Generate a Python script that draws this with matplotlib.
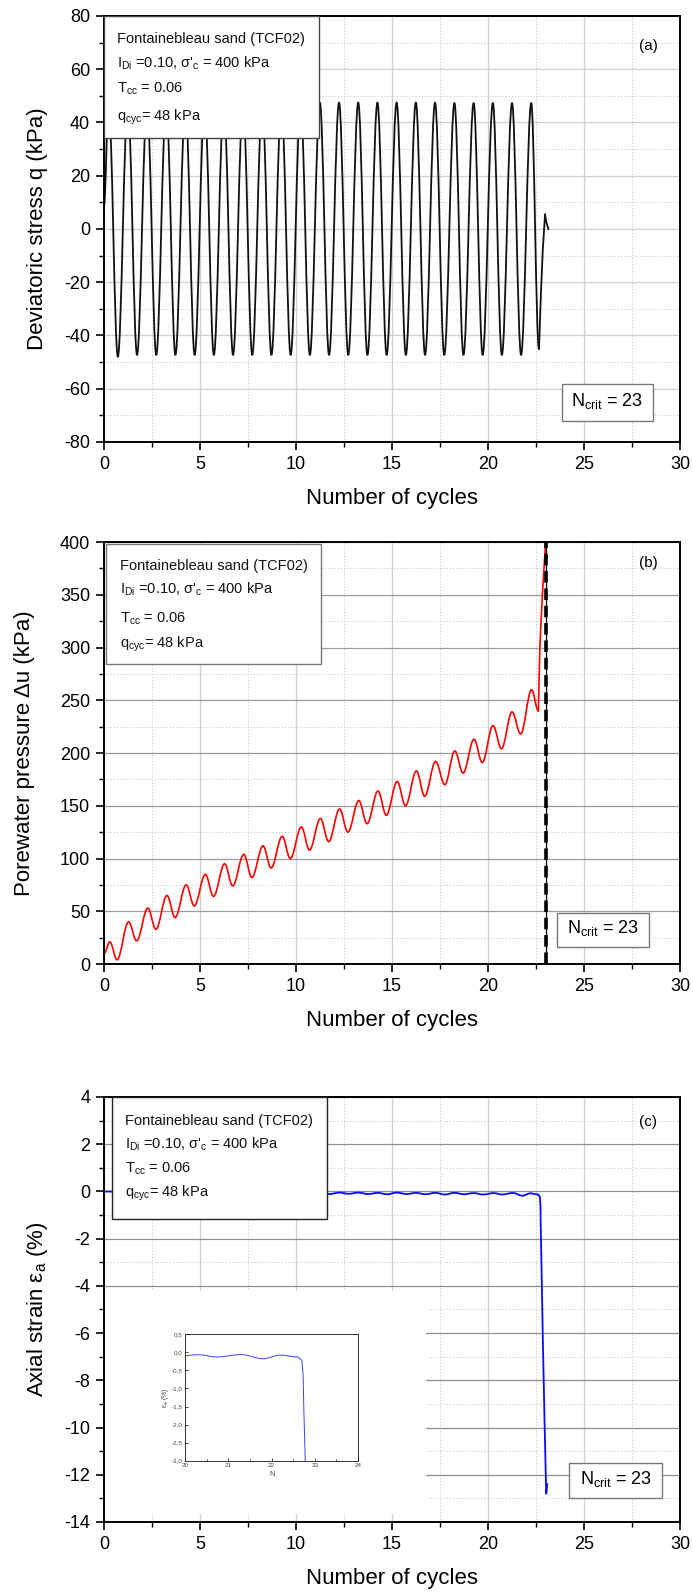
import matplotlib
matplotlib.use('Agg')
import matplotlib.pyplot as plt
from matplotlib.path import Path
from matplotlib.patches import PathPatch, Rectangle
from matplotlib.ticker import MultipleLocator, FixedLocator, FixedFormatter

plt.rcParams.update({
    'font.family': ['Liberation Sans', 'DejaVu Sans'],
    'mathtext.fontset': 'custom',
    'mathtext.rm': 'Liberation Sans',
    'mathtext.it': 'Liberation Sans:italic',
    'mathtext.bf': 'Liberation Sans:bold',
    'axes.unicode_minus': False,
})

# ---------------- data ----------------
# (a) deviatoric stress: extrema of the cyclic signal
q_ext_N = [0.00, 0.24, 0.72, 1.24, 1.72, 2.24, 2.72, 3.24, 3.72, 4.24, 4.72, 5.24, 5.72,
           6.24, 6.72, 7.24, 7.72, 8.24, 8.72, 9.24, 9.72, 10.24, 10.72, 11.24, 11.72,
           12.24, 12.72, 13.24, 13.72, 14.24, 14.72, 15.24, 15.72, 16.24, 16.72, 17.24,
           17.72, 18.25, 18.72, 19.25, 19.72, 20.25, 20.72, 21.25, 21.72, 22.25, 22.65]
q_ext = [9.0, 47.5, -48.0, 47.5, -47.3, 47.5, -47.3, 47.5, -47.3, 47.5, -47.3, 47.5, -47.3,
         47.5, -47.3, 47.5, -47.3, 47.5, -47.3, 47.5, -47.3, 47.5, -47.3, 47.5, -47.3,
         47.5, -47.3, 47.5, -47.3, 47.5, -47.3, 47.5, -47.3, 47.5, -47.3, 47.5,
         -47.3, 47.3, -47.3, 47.3, -47.3, 47.3, -47.3, 47.3, -47.3, 47.3, -45.0]
q_tail_N = [22.65, 22.68, 22.75, 22.85, 22.97, 23.02, 23.08, 23.14]
q_tail = [-45.0, -40.0, -25.0, -8.0, 5.6, 3.0, 1.5, 0.0]

# (b) pore water pressure: extrema
u_ext_N = [0.00, 0.30, 0.68, 1.28, 1.70, 2.28, 2.70, 3.28, 3.70, 4.28, 4.70, 5.28, 5.70,
           6.28, 6.70, 7.28, 7.70, 8.28, 8.70, 9.28, 9.70, 10.28, 10.70, 11.27, 11.70,
           12.27, 12.70, 13.27, 13.70, 14.27, 14.70, 15.27, 15.70, 16.27, 16.70, 17.27,
           17.75, 18.27, 18.70, 19.27, 19.70, 20.26, 20.70, 21.25, 21.70, 22.27, 22.62]
u_ext = [10, 21, 4, 40, 22, 53, 33, 65, 44, 75, 55, 85, 64,
         95, 74, 104, 82, 112, 91, 121, 100, 130, 108, 138, 116,
         147, 125, 155, 133, 164, 141, 173, 150, 183, 159, 192,
         170, 202, 181, 213, 191, 226, 204, 239, 218, 260, 240]
u_tail_N = [22.62, 22.66, 22.70, 22.83, 23.00, 23.04]
u_tail = [240, 270, 301, 350, 400, 415]
N_crit = 23

# (c) axial strain: extrema of the small oscillations, then failure
e_ext_N = [0.0, 2.0, 4.0, 6.0, 8.0, 10.0, 11.25, 11.75, 12.25, 12.75, 13.25, 13.75,
           14.25, 14.75, 15.25, 15.75, 16.25, 16.75, 17.25, 17.75, 18.25, 18.75,
           19.25, 19.75, 20.30, 20.73, 21.30, 21.80, 22.20, 22.60]
e_ext = [0.0, -0.02, -0.03, -0.04, -0.05, -0.05, -0.05, -0.11, -0.05, -0.10, -0.05, -0.11,
         -0.06, -0.12, -0.05, -0.11, -0.06, -0.12, -0.06, -0.13, -0.06, -0.12,
         -0.07, -0.13, -0.07, -0.13, -0.065, -0.18, -0.08, -0.13]
e_tail_N = [22.60, 22.70, 22.73, 22.75, 22.78, 22.86, 22.95, 23.03, 23.06, 23.08]
e_tail = [-0.13, -0.22, -0.60, -1.70, -3.00, -6.50, -10.0, -12.8, -12.6, -12.4]

inset_yticks = [-3.0, -2.5, -2.0, -1.5, -1.0, -0.5, 0.0, 0.5]
inset_yticklabels = ['-3,0', '-2,5', '-2,0', '-1,5', '-1,0', '-0,5', '0,0', '0,5']
inset_xticks = [20, 21, 22, 23, 24]

info_lines = ['Fontainebleau sand (TCF02)',
              r"I$_{\mathrm{Di}}$ =0.10, σ'$_{\mathrm{c}}$ = 400 kPa",
              r'T$_{\mathrm{cc}}$ = 0.06',
              r'q$_{\mathrm{cyc}}$= 48 kPa']
ncrit_text = r'N$_{\mathrm{crit}}$ = 23'


# ---------------- helpers ----------------
def smooth_path(xs, ys, k=0.3634):
    verts = [(xs[0], ys[0])]
    codes = [Path.MOVETO]
    for i in range(len(xs) - 1):
        dx = xs[i + 1] - xs[i]
        verts += [(xs[i] + k * dx, ys[i]), (xs[i + 1] - k * dx, ys[i + 1]), (xs[i + 1], ys[i + 1])]
        codes += [Path.CURVE4] * 3
    return Path(verts, codes)


def draw_curve(ax, xs, ys, tx, ty, color, lw):
    ax.add_patch(PathPatch(smooth_path(xs, ys), fill=False, edgecolor=color, lw=lw,
                           zorder=2, capstyle='round', joinstyle='round'))
    ax.plot(tx, ty, color=color, lw=lw, zorder=2, solid_joinstyle='round')


def style(ax, ymin, ymax, ymaj, ymnr, hcol):
    ax.set_xlim(0, 30)
    ax.set_ylim(ymin, ymax)
    ax.xaxis.set_major_locator(MultipleLocator(5))
    ax.xaxis.set_minor_locator(MultipleLocator(2.5))
    ax.yaxis.set_major_locator(MultipleLocator(ymaj))
    ax.yaxis.set_minor_locator(MultipleLocator(ymnr))
    ax.set_axisbelow(True)
    ax.grid(which='major', axis='x', color='#cfcfcf', lw=0.9, ls='-')
    ax.grid(which='major', axis='y', color=hcol, lw=0.9, ls='-')
    ax.grid(which='minor', color='#c8c8c8', lw=0.7, ls=(0, (1.2, 2)))
    ax.tick_params(which='major', direction='out', length=6, width=1.2, labelsize=13,
                   pad=4, top=False, right=False)
    ax.tick_params(which='minor', direction='out', length=3.5, width=1.0, top=False, right=False)
    for s in ax.spines.values():
        s.set_linewidth(1.4)
    ax.set_xlabel('Number of cycles', fontsize=16)
    ax.xaxis.set_label_coords(0.5, -0.108)


def info_box(ax, x0, x1, y0, y1, ecol, tx, ys):
    ax.add_patch(Rectangle((x0, y1), x1 - x0, y0 - y1, transform=ax.transAxes,
                           facecolor='white', edgecolor=ecol, lw=1.0, zorder=3))
    for line, y in zip(info_lines, ys):
        ax.text(tx, y, line, transform=ax.transAxes, fontsize=10.5, va='baseline',
                ha='left', zorder=4, color='#111111')


def ncrit_box(ax, x0, x1, y0, y1):
    ax.add_patch(Rectangle((x0, y0), x1 - x0, y1 - y0, transform=ax.transAxes,
                           facecolor='white', edgecolor='#777777', lw=1.0, zorder=3))
    ax.text((x0 + x1) / 2, (y0 + y1) / 2 + 0.004, ncrit_text, transform=ax.transAxes,
            fontsize=13, ha='center', va='center', zorder=4)


# ---------------- figure ----------------
fig = plt.figure(figsize=(6.93, 15.93), dpi=100)
L, W = 0.1501, 0.8312
axa = fig.add_axes([L, 0.72254, W, 0.26742])
axb = fig.add_axes([L, 0.39485, W, 0.2649])
axc = fig.add_axes([L, 0.04457, W, 0.2668])

# (a)
style(axa, -80, 80, 20, 10, '#cfcfcf')
draw_curve(axa, q_ext_N, q_ext, q_tail_N, q_tail, '#111111', 1.3)
axa.set_ylabel('Deviatoric stress q (kPa)', fontsize=16)
axa.yaxis.set_label_coords(-0.097, 0.5)
info_box(axa, 0.0, 0.373, 1.0, 0.714, '#444444', 0.022, [0.937, 0.880, 0.819, 0.754])
axa.text(0.945, 0.93, '(a)', transform=axa.transAxes, fontsize=11, ha='center', va='center')
ncrit_box(axa, 0.795, 0.953, 0.050, 0.135)

# (b)
style(axb, 0, 400, 50, 25, '#9a9a9a')
draw_curve(axb, u_ext_N, u_ext, u_tail_N, u_tail, '#ff0000', 1.2)
axb.axvline(N_crit, color='k', lw=0.9, zorder=2.4)
axb.axvline(N_crit, color='k', lw=2.6, ls=(0, (3.2, 1.6)), zorder=2.5)
axb.set_ylabel('Porewater pressure Δu (kPa)', fontsize=16)
axb.yaxis.set_label_coords(-0.120, 0.5)
info_box(axb, 0.004, 0.377, 0.995, 0.711, '#777777', 0.027, [0.934, 0.877, 0.810, 0.749])
axb.text(0.945, 0.95, '(b)', transform=axb.transAxes, fontsize=11, ha='center', va='center')
ncrit_box(axb, 0.787, 0.946, 0.041, 0.121)

# (c)
style(axc, -14, 4, 2, 1, '#8f8f8f')
axc.add_patch(Rectangle((0.0, -13.65), 16.75, 9.45, facecolor='white', edgecolor='none', zorder=1))
draw_curve(axc, e_ext_N, e_ext, e_tail_N, e_tail, '#0a0aff', 1.3)
axc.set_ylabel(r'Axial strain ε$_{\mathrm{a}}$ (%)', fontsize=16)
axc.yaxis.set_label_coords(-0.094, 0.5)
info_box(axc, 0.014, 0.387, 1.0, 0.713, '#222222', 0.036, [0.934, 0.878, 0.821, 0.765])
axc.text(0.945, 0.94, '(c)', transform=axc.transAxes, fontsize=11, ha='center', va='center')
ncrit_box(axc, 0.808, 0.969, 0.057, 0.138)

# inset
axi = fig.add_axes([0.267, 0.0830, 0.2496, 0.0795])
axi.set_xlim(20, 24)
axi.set_ylim(-3.0, 0.5)
axi.add_patch(PathPatch(smooth_path(e_ext_N, e_ext), fill=False, edgecolor='#4040ff', lw=0.7))
axi.plot(e_tail_N, e_tail, color='#4040ff', lw=0.7)
axi.xaxis.set_major_locator(FixedLocator(inset_xticks))
axi.xaxis.set_minor_locator(MultipleLocator(0.5))
axi.yaxis.set_major_locator(FixedLocator(inset_yticks))
axi.yaxis.set_major_formatter(FixedFormatter(inset_yticklabels))
axi.tick_params(which='major', direction='in', length=2.5, width=0.5, labelsize=4.5,
                labelcolor='#444444', pad=1.5)
axi.tick_params(which='minor', direction='in', length=1.5, width=0.5)
for s in axi.spines.values():
    s.set_linewidth(0.7)
    s.set_color('#333333')
axi.set_xlabel('N', fontsize=5, color='#444444', labelpad=2)
axi.set_ylabel(r'ε$_{\mathrm{a}}$ (%)', fontsize=5, color='#444444', labelpad=1)

fig.savefig('out.png', dpi=100)
